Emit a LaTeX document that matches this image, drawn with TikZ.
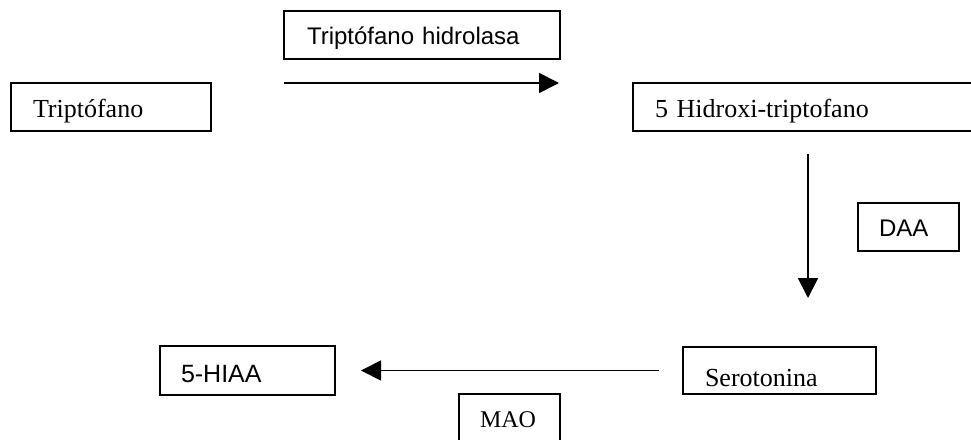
\documentclass[tikz,border=0pt]{standalone}
\usepackage{fontspec}
\setmainfont{Liberation Serif}
\newfontfamily\arialfont{Liberation Sans}
\usetikzlibrary{arrows.meta,calc}
\begin{document}
\begin{tikzpicture}[x=1pt,y=-1pt,
  box/.style={draw, line width=1.8pt, rectangle, anchor=north west, outer sep=0pt,
    inner ysep=0pt, text depth=0pt, align=left},
  serif/.style={font=\fontsize{26}{30}\selectfont},
  sans/.style={font=\arialfont\fontsize{24}{28}\selectfont},
  arr/.style={line width=1.8pt, -{Triangle[length=20pt,width=20pt]}}]
\useasboundingbox (0,0) rectangle (971,439);
\node[box, serif, minimum width=200pt, minimum height=48pt, inner xsep=22pt, text width=156pt, text height=20pt] (trip) at (11,83) {Triptófano};
\node[box, sans, minimum width=276pt, minimum height=48pt, inner xsep=23pt, text width=230pt, text height=18pt] (hidro) at (284,11) {Triptófano hidrolasa};
\node[box, serif, minimum width=360pt, minimum height=48pt, inner xsep=22pt, text width=316pt, text height=20pt] (hidroxi) at (633,83) {5 Hidroxi-triptofano};
\node[box, sans, minimum width=101pt, minimum height=48pt, inner xsep=21pt, text width=59pt, text height=18pt] (daa) at (858,203) {DAA};
\node[box, serif, minimum width=193pt, minimum height=47pt, inner xsep=22pt, text width=149pt, text height=32pt] (sero) at (683,347) {Serotonina};
\node[box, sans, font=\arialfont\fontsize{25}{29}\selectfont, minimum width=175pt, minimum height=49pt, inner xsep=21pt, text width=133pt, text height=23pt] (hiaa) at (160,346) {5-HIAA};
\node[box, font=\fontsize{24}{28}\selectfont, minimum width=101pt, minimum height=50pt, inner xsep=21pt, text width=59pt, text height=16pt] (mao) at (459,394) {MAO};
\draw[arr] ($(hidro.south west)+(0,24)$) -- ($(hidro.south east)+(-1,24)$);
\draw[arr] ($(hidroxi.south west)+(175,23)$) -- ($(sero.north west)+(125,-49)$);
\draw[arr] ($(sero.west)+(-24,0)$) -- ($(hiaa.east)+(26,0)$);
\end{tikzpicture}
\end{document}
